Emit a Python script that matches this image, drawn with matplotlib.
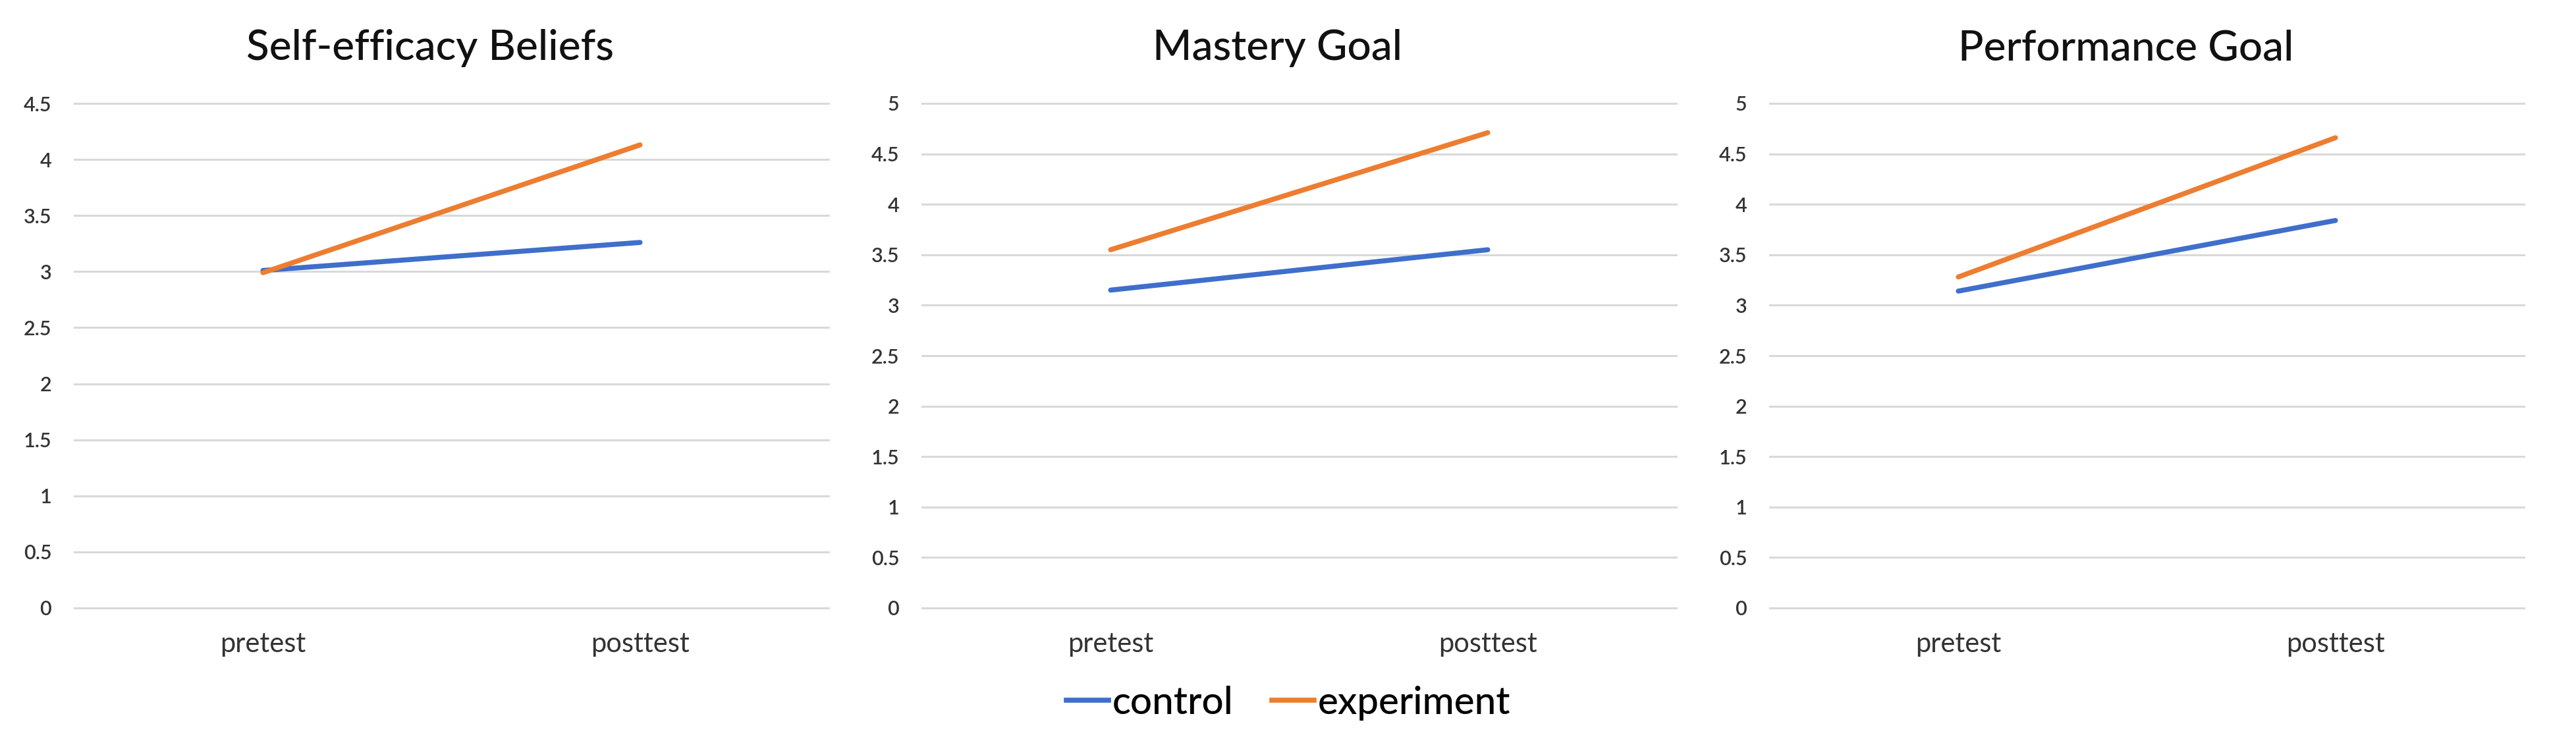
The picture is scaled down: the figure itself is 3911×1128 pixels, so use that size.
import matplotlib
matplotlib.use("Agg")
import matplotlib.pyplot as plt
from matplotlib.lines import Line2D

plt.rcParams['font.family'] = ['Lato', 'DejaVu Sans']

# data
phases = ["pretest", "posttest"]
titles = ["Self-efficacy Beliefs", "Mastery Goal", "Performance Goal"]
y_max = [4.5, 5, 5]
control = [[3.01, 3.26], [3.15, 3.55], [3.14, 3.84]]
experiment = [[2.99, 4.13], [3.55, 4.71], [3.28, 4.66]]

blue = "#3F6FCB"
orange = "#ED7D31"
grid_col = "#D9D9D9"
text_col = "#333333"

W, H = 3912, 1128
fig = plt.figure(figsize=(W / 100, H / 100), dpi=100)

lefts = [113, 1400, 2687]
title_x = [653, 1940, 3228]
ax_w = 1145
top, bottom = 157, 923

for i in range(3):
    ax = fig.add_axes([lefts[i] / W, 1 - bottom / H, ax_w / W, (bottom - top) / H])
    x = range(len(phases))
    ax.plot(x, control[i], color=blue, lw=5.5, solid_capstyle='round', zorder=3)
    ax.plot(x, experiment[i], color=orange, lw=5.5, solid_capstyle='round', zorder=4)

    ax.set_xlim(-0.5, len(phases) - 0.5)
    ax.set_ylim(0, y_max[i])
    ticks = [k * 0.5 for k in range(int(y_max[i] / 0.5) + 1)]
    ax.set_yticks(ticks)
    ax.set_yticklabels(["{:g}".format(t) for t in ticks], fontweight='semibold')
    ax.set_xticks(list(x))
    ax.set_xticklabels(phases)

    ax.yaxis.grid(True, color=grid_col, lw=2.2)
    for gl in ax.get_ygridlines():
        gl.set_clip_on(False)
    ax.set_axisbelow(True)
    for s in ax.spines.values():
        s.set_visible(False)

    ax.tick_params(axis='y', length=0, pad=25, labelsize=22, labelcolor=text_col)
    ax.tick_params(axis='x', length=0, pad=26, labelsize=30, labelcolor=text_col)

    fig.text(title_x[i] / W, 1 - 91 / H, titles[i], ha='center', va='baseline',
             fontsize=46, color='#111111', fontweight='medium')

handles = [Line2D([], [], color=blue, lw=5.5), Line2D([], [], color=orange, lw=5.5)]
fig.legend(handles, ["control", "experiment"], loc='center', bbox_to_anchor=(0.5, 1 - 1067 / H),
           ncol=2, frameon=False, fontsize=42, handlelength=1.1, handletextpad=0.1,
           columnspacing=1.0, prop={'size': 42, 'weight': 'medium'})

fig.savefig("out.png", dpi=100, facecolor='white')
